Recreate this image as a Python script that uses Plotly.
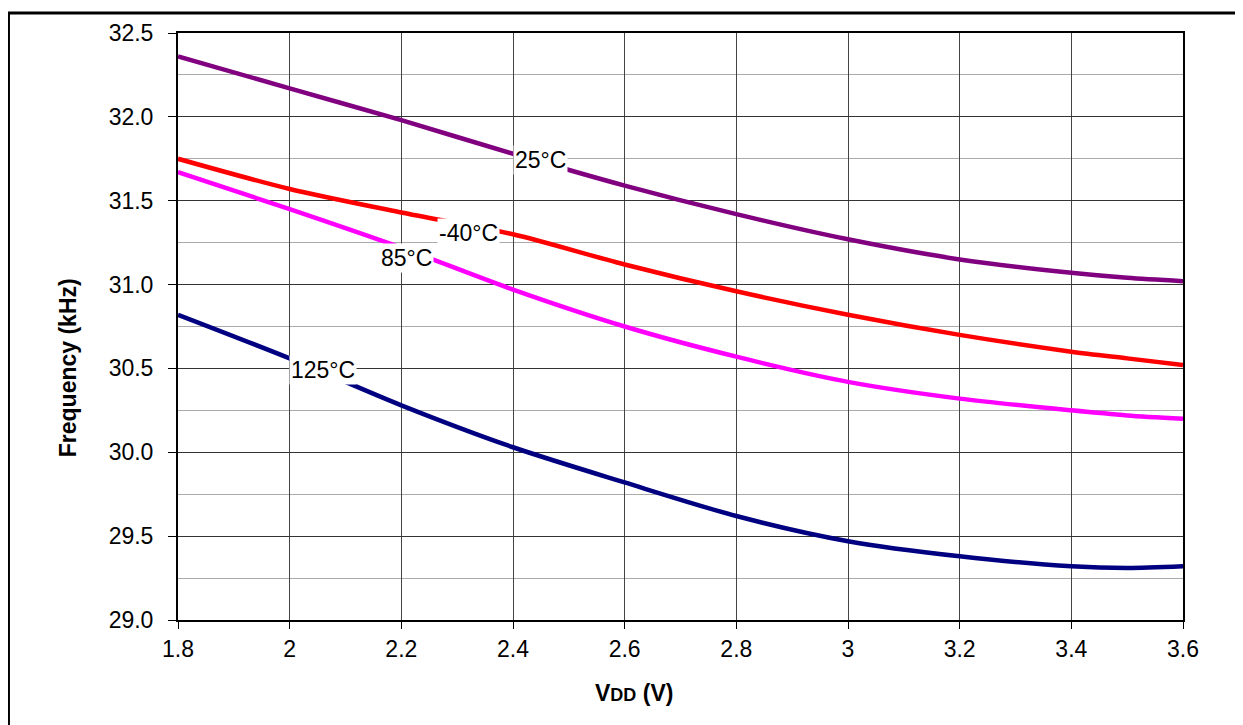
import plotly.graph_objects as go

vdd = [1.8, 2.0, 2.2, 2.4, 2.6, 2.8, 3.0, 3.2, 3.4, 3.5, 3.6]
f_25 = [32.36, 32.17, 31.98, 31.78, 31.59, 31.42, 31.27, 31.15, 31.07, 31.04, 31.02]
f_m40 = [31.75, 31.57, 31.43, 31.30, 31.12, 30.96, 30.82, 30.70, 30.60, 30.56, 30.52]
f_85 = [31.67, 31.45, 31.22, 30.97, 30.75, 30.57, 30.42, 30.32, 30.25, 30.22, 30.20]
f_125 = [30.82, 30.56, 30.28, 30.03, 29.82, 29.62, 29.47, 29.38, 29.32, 29.31, 29.32]

series = [("25°C", f_25, "#800080"), ("-40°C", f_m40, "#FF0000"),
          ("85°C", f_85, "#FF00FF"), ("125°C", f_125, "#000080")]
labels = [("25°C", 2.45, 31.74), ("-40°C", 2.32, 31.31),
          ("85°C", 2.21, 31.16), ("125°C", 2.06, 30.49)]

FONT = "Arial, Liberation Sans, sans-serif"

fig = go.Figure()
for name, ys, col in series:
    fig.add_trace(go.Scatter(x=vdd, y=ys, mode="lines", name=name,
                             line=dict(color=col, width=4.5, shape="spline", smoothing=0.8)))

for txt, x, y in labels:
    fig.add_annotation(x=x, y=y, text=txt, showarrow=False, bgcolor="white",
                       font=dict(family=FONT, size=23, color="black"), borderpad=1)

# axis titles
fig.add_annotation(xref="paper", yref="paper", x=-0.1095, y=0.4305, text="<b>Frequency (kHz)</b>",
                   textangle=-90, showarrow=False, xanchor="center", yanchor="middle",
                   font=dict(family=FONT, size=23, color="black"))
fig.add_annotation(xref="paper", yref="paper", x=0.454, y=-0.1237,
                   text="<b>V<span style='font-size:18px'>DD</span> (V)</b>",
                   showarrow=False, xanchor="center", yanchor="middle",
                   font=dict(family=FONT, size=23, color="black"))

fig.update_layout(
    width=1235, height=717, showlegend=False,
    paper_bgcolor="white", plot_bgcolor="white",
    margin=dict(l=170, r=60, t=22, b=105),
    font=dict(family=FONT, size=23, color="black"),
    xaxis=dict(range=[1.8, 3.6], dtick=0.2, tick0=1.8, showgrid=True, gridcolor="#444444",
               gridwidth=1, showline=True, linecolor="black", linewidth=2, mirror=True,
               ticks="outside", ticklen=7, tickcolor="black", zeroline=False,
               tickfont=dict(size=23)),
    yaxis=dict(range=[29.0, 32.5], dtick=0.5, tick0=29.0, tickformat=".1f", showgrid=True,
               gridcolor="#333333", gridwidth=1, showline=True, linecolor="black", linewidth=2,
               mirror=True, ticks="outside", ticklen=8, tickcolor="black", zeroline=False,
               tickfont=dict(size=23), ticklabelstandoff=10,
               minor=dict(dtick=0.25, showgrid=True, gridcolor="#aaaaaa", gridwidth=1)),
)

fig.add_shape(type="rect", xref="paper", yref="paper", x0=-0.1687, x1=1.2, y0=-0.3,
              y1=1.0339, line=dict(color="black", width=3), fillcolor="rgba(0,0,0,0)")

fig.write_html("out.html")
